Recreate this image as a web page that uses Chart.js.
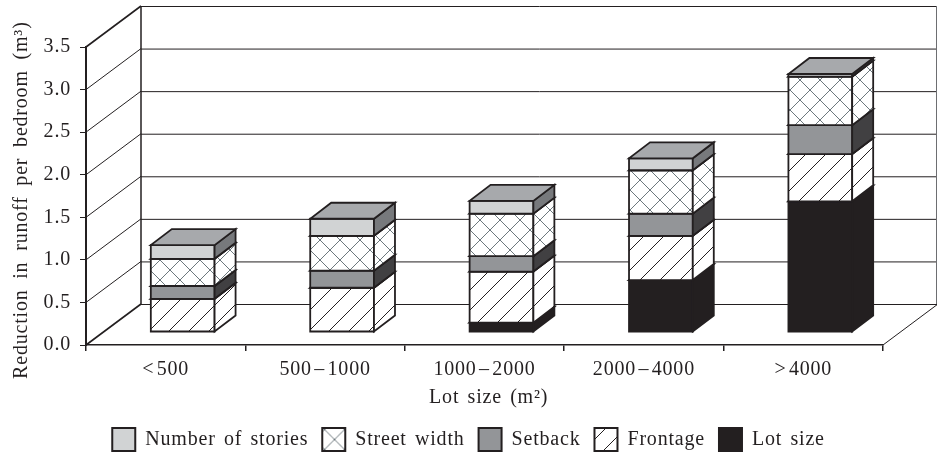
<!DOCTYPE html>
<html>
<head>
<meta charset="utf-8">
<style>
  html, body { margin: 0; padding: 0; background: #fff; }
  canvas { display: block; }
</style>
<script src="https://cdn.jsdelivr.net/npm/chart.js@4"></script>
</head>
<body>
<canvas id="chart" width="937" height="452"></canvas>
<script>
// Data
const categories = ['<\u200a500', '500\u200a\u2013\u200a1000', '1000\u200a\u2013\u200a2000', '2000\u200a\u2013\u200a4000', '>\u200a4000'];
const lotSize = [0, 0, 0.11, 0.61, 1.535];
const frontage = [0.39, 0.52, 0.60, 0.52, 0.555];
const setback = [0.15, 0.20, 0.18, 0.26, 0.34];
const streetWidth = [0.32, 0.41, 0.50, 0.51, 0.57];
const stories = [0.16, 0.20, 0.15, 0.14, 0.03];

const INK = '#231f20';
const FONT = '"Liberation Serif", "Times New Roman", serif';

// Hatch fills for the bars; the legend gets its own copies, shifted to sit right in the box
function hatch(cross, color, shiftX, shiftY) {
  const c = document.createElement('canvas');
  c.width = 20;
  c.height = 20;
  const g = c.getContext('2d');
  g.fillStyle = '#fff';
  g.fillRect(0, 0, 20, 20);
  g.strokeStyle = color;
  g.lineWidth = 1;
  g.beginPath();
  g.moveTo(-2, 22); g.lineTo(22, -2);
  if (cross) { g.moveTo(-2, -2); g.lineTo(22, 22); }
  g.stroke();
  const p = g.createPattern(c, 'repeat');
  if (shiftX || shiftY) p.setTransform(new DOMMatrix().translate(shiftX, shiftY));
  return p;
}
const frontageFill = hatch(false, INK);
const streetFill = hatch(true, '#6d787d');
const legendFills = { 'Frontage': hatch(false, INK, 14, 0), 'Street width': hatch(true, '#6d787d', 14.5, 19.5) };

// side and top shades for each layer, same order as the datasets
const sideFills = ['#231f20', frontageFill, '#414042', streetFill, '#77797c'];
const topFills = ['#231f20', '#ffffff', '#6d6e71', '#ffffff', '#a7a9ac'];

// 3D look: wall depth, how far the bars stand off the front, and bar depth
const wall = { x: 55, y: 41 };
const standOff = { x: 17, y: 13 };
const barDepth = { x: 21, y: 16 };

function poly(ctx, pts, fill) {
  ctx.beginPath();
  pts.forEach((p, i) => (i ? ctx.lineTo(p[0], p[1]) : ctx.moveTo(p[0], p[1])));
  ctx.closePath();
  ctx.fillStyle = fill;
  ctx.fill();
  ctx.stroke();
}

function setSpacing(ctx) {
  ctx.letterSpacing = '0.8px';
  ctx.wordSpacing = '2.5px';
}

const depthPlugin = {
  id: 'depth',
  beforeUpdate(chart) { setSpacing(chart.ctx); },
  beforeDraw(chart) { setSpacing(chart.ctx); },
  // back wall, floor and gridlines
  beforeDatasetsDraw(chart) {
    const { ctx, chartArea: a, scales } = chart;
    ctx.save();
    ctx.strokeStyle = INK;
    scales.y.ticks.forEach(t => {
      const py = scales.y.getPixelForValue(t.value);
      const edge = t.value === 0 || t.value === 3.5;
      ctx.lineWidth = edge ? 1.6 : 1;
      ctx.beginPath();
      ctx.moveTo(a.left, py);
      ctx.lineTo(a.left + wall.x, py - wall.y);
      ctx.stroke();
      ctx.lineWidth = 1;
      ctx.beginPath();
      ctx.moveTo(a.left + wall.x, py - wall.y + 0.5);
      ctx.lineTo(a.right + wall.x, py - wall.y + 0.5);
      ctx.stroke();
    });
    ctx.lineWidth = 1.5;
    ctx.beginPath();
    ctx.moveTo(a.left + wall.x, a.top - wall.y);
    ctx.lineTo(a.left + wall.x, a.bottom - wall.y);
    ctx.stroke();
    ctx.lineWidth = 1;
    ctx.strokeStyle = '#6d6e71';
    ctx.beginPath();
    ctx.moveTo(a.right + wall.x - 1.5, a.top - wall.y);
    ctx.lineTo(a.right + wall.x - 1.5, a.bottom - wall.y);
    ctx.stroke();
    ctx.strokeStyle = INK;
    ctx.beginPath();
    ctx.moveTo(a.right, a.bottom);
    ctx.lineTo(a.right + wall.x, a.bottom - wall.y);
    ctx.stroke();
    ctx.restore();
  },
  // the plain bars are replaced by the boxes below
  beforeDatasetDraw() {
    return false;
  },
  afterDatasetsDraw(chart) {
    const { ctx } = chart;
    ctx.save();
    ctx.strokeStyle = INK;
    ctx.lineWidth = 1.8;
    ctx.lineJoin = 'miter';
    chart.data.datasets.forEach((ds, d) => {
      chart.getDatasetMeta(d).data.forEach((bar, i) => {
        if (!ds.data[i]) return;
        const x0 = bar.x - bar.width / 2 + standOff.x;
        const x1 = x0 + bar.width;
        const top = bar.y - standOff.y;
        const bot = bar.base - standOff.y;
        const dx = barDepth.x, dy = barDepth.y;
        poly(ctx, [[x0, top], [x1, top], [x1, bot], [x0, bot]], ds.backgroundColor);
        poly(ctx, [[x1, top], [x1 + dx, top - dy], [x1 + dx, bot - dy], [x1, bot]], sideFills[d]);
        poly(ctx, [[x0, top], [x1, top], [x1 + dx, top - dy], [x0 + dx, top - dy]], topFills[d]);
      });
    });
    ctx.restore();
  }
};

new Chart(document.getElementById('chart'), {
  type: 'bar',
  data: {
    labels: categories,
    datasets: [
      { label: 'Lot size', data: lotSize, backgroundColor: '#231f20' },
      { label: 'Frontage', data: frontage, backgroundColor: frontageFill },
      { label: 'Setback', data: setback, backgroundColor: '#939598' },
      { label: 'Street width', data: streetWidth, backgroundColor: streetFill },
      { label: 'Number of stories', data: stories, backgroundColor: '#d1d3d4' }
    ]
  },
  options: {
    responsive: false,
    animation: false,
    devicePixelRatio: 1,
    layout: { padding: { top: 47, left: 0, right: 0, bottom: -9 } },
    datasets: {
      bar: {
        categoryPercentage: 1,
        barPercentage: 0.4,
        borderColor: INK,
        borderWidth: 2
      }
    },
    plugins: {
      tooltip: { enabled: false },
      legend: {
        position: 'bottom',
        reverse: true,
        labels: {
          color: INK,
          boxWidth: 23,
          boxHeight: 23,
          padding: 14,
          font: { family: FONT, size: 20 },
          generateLabels(chart) {
            const items = Chart.defaults.plugins.legend.labels.generateLabels(chart);
            items.forEach(it => { if (legendFills[it.text]) it.fillStyle = legendFills[it.text]; });
            return items;
          }
        }
      }
    },
    scales: {
      x: {
        stacked: true,
        grid: { drawOnChartArea: false, color: INK, tickLength: 6, lineWidth: 1.5 },
        border: { color: INK, width: 1.5 },
        ticks: { color: INK, padding: 7, font: { family: FONT, size: 20 }, maxRotation: 0 },
        title: {
          display: true,
          text: '\u00a0Lot size (m\u00b2)',
          color: INK,
          font: { family: FONT, size: 20 },
          padding: { top: 2, bottom: 4 }
        },
        afterFit(scale) { scale.height = 69; }
      },
      y: {
        stacked: true,
        min: 0,
        max: 3.5,
        grid: { drawOnChartArea: false, color: INK, tickLength: 6, lineWidth: 1 },
        border: { color: INK, width: 2 },
        ticks: {
          stepSize: 0.5,
          color: INK,
          padding: 9,
          font: { family: FONT, size: 20 },
          callback: v => v.toFixed(1)
        },
        title: {
          display: true,
          text: 'Reduction \u200ain \u200arunoff \u200aper \u200abedroom \u200a(m\u00b3)\u00a0',
          color: INK,
          font: { family: FONT, size: 20 },
          padding: { top: 10, bottom: 0 }
        },
        afterFit(scale) { scale.width = 86; }
      },
      // empty scale, keeps the room right of the front plane for the depth
      right: {
        position: 'right',
        display: true,
        grid: { display: false },
        border: { display: false },
        ticks: { display: false },
        afterFit(scale) { scale.width = 54; }
      }
    }
  },
  plugins: [depthPlugin]
});
</script>
</body>
</html>
